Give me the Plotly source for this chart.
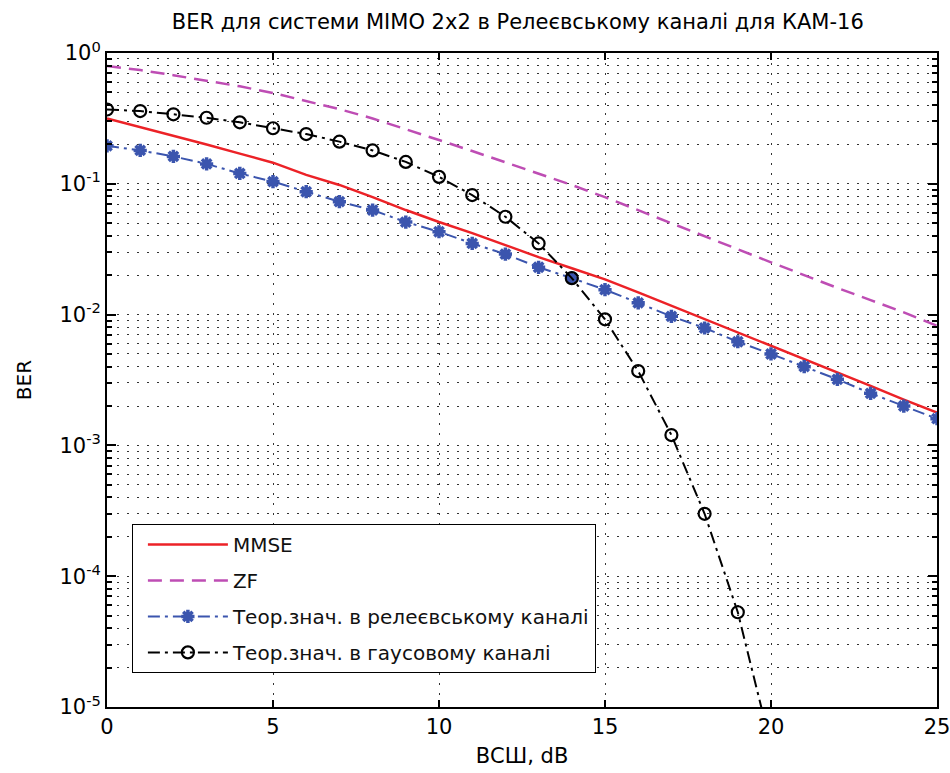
import plotly.graph_objects as go

snr_db = list(range(0, 26))

ber_mmse = [0.316, 0.272, 0.234, 0.200, 0.170, 0.145, 0.117, 0.098, 0.079, 0.063,
            0.051, 0.042, 0.034, 0.0275, 0.0226, 0.0186, 0.0148, 0.0117, 0.0093, 0.0073,
            0.0058, 0.0046, 0.0036, 0.00285, 0.00224, 0.00178]

ber_zf = [0.794, 0.741, 0.676, 0.617, 0.556, 0.495, 0.431, 0.372, 0.316, 0.263,
          0.216, 0.178, 0.146, 0.120, 0.098, 0.079, 0.063, 0.050, 0.040, 0.0316,
          0.0251, 0.0200, 0.0160, 0.0129, 0.0104, 0.0082]

ber_rayleigh = [0.195, 0.18, 0.162, 0.142, 0.12, 0.104, 0.087, 0.073, 0.063, 0.051,
                0.043, 0.035, 0.029, 0.023, 0.019, 0.0155, 0.0123, 0.0097, 0.0079, 0.0062,
                0.0050, 0.0040, 0.0032, 0.0025, 0.0020, 0.0016]

snr_gauss = list(range(0, 21))
ber_gauss = [0.37, 0.36, 0.34, 0.32, 0.295, 0.266, 0.24, 0.21, 0.18, 0.147,
             0.113, 0.082, 0.056, 0.035, 0.019, 0.0092, 0.0037, 0.0012, 0.00030, 5.3e-5,
             5e-6]

names = ["MMSE", "ZF", "Теор.знач. в релеєвському каналі", "Теор.знач. в гаусовому каналі"]

y_tickvals = [1e-5, 1e-4, 1e-3, 1e-2, 1e-1, 1]
y_ticktext = ["10<sup>-5</sup>", "10<sup>-4</sup>", "10<sup>-3</sup>",
              "10<sup>-2</sup>", "10<sup>-1</sup>", "10<sup>0</sup>"]
x_tickvals = [0, 5, 10, 15, 20, 25]

FONT = "DejaVu Sans"

fig = go.Figure()
fig.add_trace(go.Scatter(x=snr_db, y=ber_mmse, mode="lines", name=names[0], legendgroup="a",
                         line=dict(color="#EC2227", width=2.5)))
fig.add_trace(go.Scatter(x=snr_db, y=ber_zf, mode="lines", name=names[1], legendgroup="b",
                         line=dict(color="#BE4DB4", width=2.5, dash="14px,8px")))
fig.add_trace(go.Scatter(x=snr_db, y=ber_rayleigh, mode="lines+markers", name=names[2],
                         legendgroup="c",
                         line=dict(color="#3B55AE", width=2, dash="12px,5px,3px,5px"),
                         marker=dict(symbol="asterisk-open", size=11, color="#3B55AE",
                                     line=dict(color="#3B55AE", width=3.5))))
fig.add_trace(go.Scatter(x=snr_gauss, y=ber_gauss, mode="lines+markers", name=names[3],
                         legendgroup="d",
                         line=dict(color="black", width=2, dash="12px,5px,3px,5px"),
                         marker=dict(symbol="circle-open", size=12, color="black",
                                     line=dict(color="black", width=2.2))))

grid_dash = "2px,8px"
minor_vals = [k * 10.0 ** e for e in range(-5, 0) for k in range(2, 10)]

fig.update_layout(
    width=950, height=773,
    margin=dict(l=107, r=13, t=53, b=66),
    paper_bgcolor="white", plot_bgcolor="white",
    font=dict(family=FONT, color="black"),
    title=dict(text="BER для системи MIMO 2x2 в Релеєвському каналі для КАМ-16",
               x=0.545, xanchor="center", y=0.972, yanchor="middle",
               font=dict(size=21, family=FONT, color="black")),
    showlegend=True,
    legend=dict(x=0.030, xanchor="left", y=0.28, yanchor="top",
                bgcolor="white", bordercolor="black", borderwidth=1,
                font=dict(size=20, family=FONT, color="#111"),
                itemwidth=80, tracegroupgap=7, indentation=10),
    xaxis=dict(range=[0, 25], tickvals=x_tickvals, ticks="inside", ticklen=7,
               tickcolor="black", tickwidth=1.5, automargin=False,
               ticklabeloverflow="allow",
               showline=True, linecolor="black", linewidth=2, mirror="ticks",
               showgrid=True, gridcolor="#333", gridwidth=1, griddash=grid_dash,
               zeroline=False, tickfont=dict(size=21, family=FONT),
               title=dict(text="ВСШ, dB", font=dict(size=21, family=FONT), standoff=10)),
    yaxis=dict(type="log", range=[-5, 0], tickvals=y_tickvals, ticktext=y_ticktext,
               ticks="inside", ticklen=9, tickcolor="black", tickwidth=1.5, automargin=False,
               ticklabeloverflow="allow",
               showline=True, linecolor="black", linewidth=2, mirror="ticks",
               showgrid=True, gridcolor="#333", gridwidth=1, griddash=grid_dash,
               zeroline=False, tickfont=dict(size=21, family=FONT),
               minor=dict(tickvals=minor_vals, ticks="inside", ticklen=5,
                          tickcolor="black", showgrid=True, gridcolor="#333",
                          gridwidth=1, griddash=grid_dash),
               title=dict(text="BER", font=dict(size=20, family=FONT), standoff=22)),
)

fig.write_html("out.html")
